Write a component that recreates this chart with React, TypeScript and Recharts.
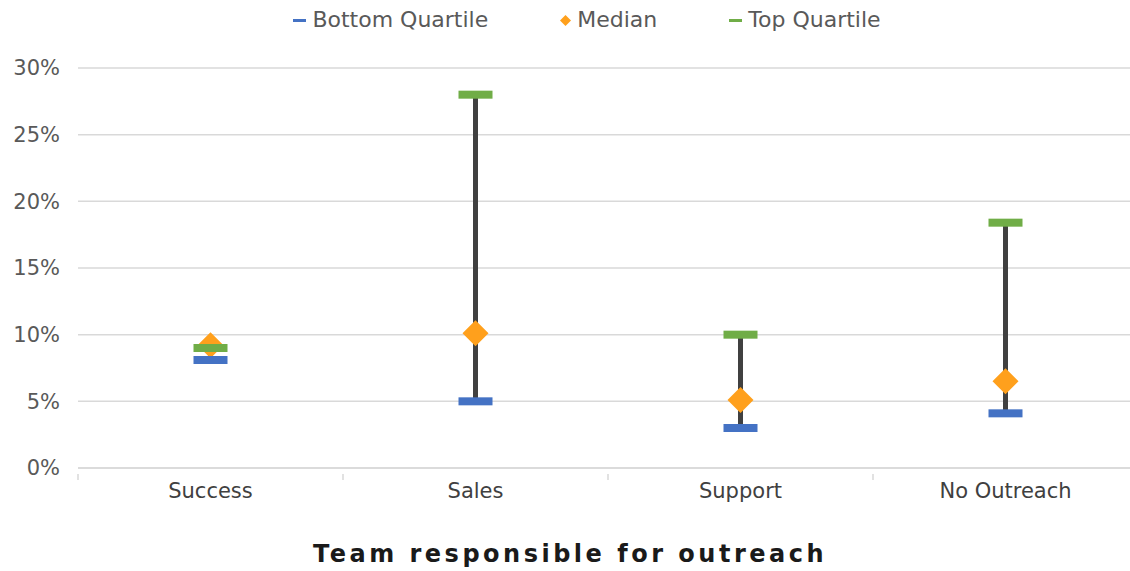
import React from 'react';
import { ComposedChart, Bar, Line, XAxis, YAxis, CartesianGrid } from 'recharts';

const teams = ['Success', 'Sales', 'Support', 'No Outreach'];
const bottomQuartile = [0.081, 0.05, 0.03, 0.041];
const median = [0.092, 0.101, 0.051, 0.065];
const topQuartile = [0.09, 0.28, 0.1, 0.184];
const yTicks = [0, 0.05, 0.1, 0.15, 0.2, 0.25, 0.3];

const data = teams.map((team, i) => ({
  team,
  bottom: bottomQuartile[i],
  median: median[i],
  top: topQuartile[i],
  range: [bottomQuartile[i], topQuartile[i]],
}));

const BLUE = '#4472C4';
const ORANGE = '#FFA01C';
const GREEN = '#70AD47';
const FONT = '"DejaVu Sans", sans-serif';

const dash = (color: string) => (props: any) => {
  const { cx, cy, index } = props;
  if (cx == null || cy == null) return <g key={index} />;
  return <rect key={index} x={cx - 17} y={cy - 4} width={34} height={8} fill={color} />;
};

const diamond = (props: any) => {
  const { cx, cy, index } = props;
  if (cx == null || cy == null) return <g key={index} />;
  return (
    <polygon
      key={index}
      points={`${cx},${cy - 13} ${cx + 13},${cy} ${cx},${cy + 13} ${cx - 13},${cy}`}
      fill={ORANGE}
    />
  );
};

// category label plus the small boundary tick marks under the axis
const XTick = (props: any) => {
  const { x, y, payload, index, visibleTicksCount } = props;
  const half = payload && payload.offset ? payload.offset : 0;
  const last = index === (visibleTicksCount || teams.length) - 1;
  return (
    <g>
      {half > 0 && <line x1={x - half} x2={x - half} y1={y - 10} y2={y - 4} stroke="#D9D9D9" strokeWidth={1.5} />}
      {half > 0 && last && <line x1={x + half} x2={x + half} y1={y - 10} y2={y - 4} stroke="#D9D9D9" strokeWidth={1.5} />}
      <text x={x} y={y + 14} textAnchor="middle" fill="#404040" fontSize={21} fontFamily={FONT}>
        {payload.value}
      </text>
    </g>
  );
};

const legendItem: React.CSSProperties = { display: 'flex', alignItems: 'center' };

export default function App() {
  return (
    <div
      style={{
        position: 'absolute',
        left: 0,
        top: 0,
        width: 1130,
        height: 571,
        background: '#fff',
        overflow: 'hidden',
      }}
    >
      <div
        style={{
          position: 'absolute',
          top: 6,
          left: 0,
          width: 1174,
          display: 'flex',
          justifyContent: 'center',
          alignItems: 'center',
          fontFamily: FONT,
          fontSize: 22,
          color: '#595959',
          gap: 72,
          lineHeight: '28px',
        }}
      >
        <span style={legendItem}>
          <span style={{ width: 13, height: 3, background: BLUE, marginRight: 6 }} />
          Bottom Quartile
        </span>
        <span style={legendItem}>
          <svg width={11} height={11} style={{ marginRight: 6 }}>
            <polygon points="5.5,0 11,5.5 5.5,11 0,5.5" fill={ORANGE} />
          </svg>
          Median
        </span>
        <span style={legendItem}>
          <span style={{ width: 13, height: 3, background: GREEN, marginRight: 6 }} />
          Top Quartile
        </span>
      </div>
      <ComposedChart
        width={1138}
        height={571}
        data={data}
        margin={{ top: 68, right: 0, bottom: 0, left: 0 }}
      >
        <CartesianGrid vertical={false} stroke="#D9D9D9" strokeWidth={1.5} />
        <XAxis
          dataKey="team"
          height={103}
          axisLine={{ stroke: '#D9D9D9', strokeWidth: 1.5 }}
          tickLine={false}
          tick={<XTick />}
          tickMargin={10}
        />
        <YAxis
          width={78}
          domain={[0, 0.3]}
          ticks={yTicks}
          axisLine={false}
          tickLine={false}
          tickMargin={12}
          tickFormatter={(v: number) => `${Math.round(v * 100)}%`}
          tick={{ fill: '#595959', fontSize: 21, fontFamily: FONT }}
        />
        <Bar dataKey="range" barSize={5} fill="#404040" isAnimationActive={false} legendType="none" />
        <Line dataKey="median" stroke="none" dot={diamond} activeDot={false} isAnimationActive={false} />
        <Line dataKey="bottom" stroke="none" dot={dash(BLUE)} activeDot={false} isAnimationActive={false} />
        <Line dataKey="top" stroke="none" dot={dash(GREEN)} activeDot={false} isAnimationActive={false} />
      </ComposedChart>
      <div
        style={{
          position: 'absolute',
          top: 538,
          left: 0,
          width: 1140,
          textAlign: 'center',
          fontFamily: FONT,
          fontSize: 24,
          fontWeight: 'bold',
          letterSpacing: 3.5,
          color: '#1a1a1a',
          lineHeight: '32px',
        }}
      >
        Team responsible for outreach
      </div>
    </div>
  );
}
